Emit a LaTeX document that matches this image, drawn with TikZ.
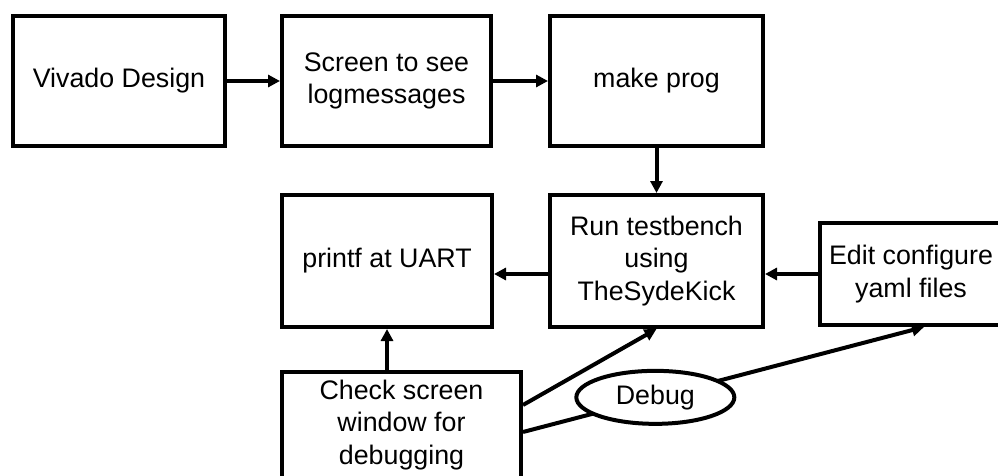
\documentclass[tikz,border=0pt]{standalone}
\usepackage{fontspec}
\setmainfont{Liberation Sans}
\usetikzlibrary{positioning,arrows.meta,shapes.geometric}

\tikzset{
    stepbox/.style={draw, line width=4pt, inner sep=0pt, align=center, fill=white},
    bubble/.style={draw, ellipse, line width=4pt, inner sep=0pt, fill=white,
        minimum width=158pt, minimum height=53pt},
    flow/.style={line width=4pt, -{Triangle[length=12pt,width=12pt]}},
}

\begin{document}
\begin{tikzpicture}[x=1pt, y=1pt, font=\fontsize{26.8}{32.5}\selectfont]
    \useasboundingbox (0,0) rectangle (998,-476);

    % Top row
    \node[stepbox, minimum width=212pt, minimum height=130pt] (vivado) at (119,-81) {Vivado Design};
    \node[stepbox, minimum width=209pt, minimum height=130pt] (screen) at (386.5,-81) {Screen to see\\logmessages};
    \node[stepbox, minimum width=213pt, minimum height=130pt] (prog) at (656.5,-81) {make prog};

    % Middle row
    \node[stepbox, minimum width=210pt, minimum height=132pt] (uart) at (387,-261) {printf at UART};
    \node[stepbox, minimum width=213pt, minimum height=132pt] (testbench) at (656.5,-261) {Run testbench\\using\\TheSydeKick};
    \node[stepbox, minimum width=182pt, minimum height=102pt] (yaml) at (911,-274) {Edit configure\\yaml files};

    % Bottom
    \node[stepbox, minimum width=239pt, minimum height=106pt] (check) at (401.5,-425) {Check screen\\window for\\debugging};

    % Arrows
    \draw[flow] (vivado) -- (screen);
    \draw[flow] (screen) -- (prog);
    \draw[flow] (prog) -- (testbench);
    \draw[flow] (testbench.west |- yaml.west) -- (uart.east |- yaml.west);
    \draw[flow] (yaml.west) -- (testbench.east |- yaml.west);
    \draw[flow] (uart.south |- check.north) -- (uart.south);
    \draw[flow] ([yshift=20pt]check.east) -- (testbench.south);
    \draw[flow] ([yshift=-7pt]check.east) -- node[bubble, pos=0.33] (debug) {Debug} ([xshift=13pt]yaml.south);
\end{tikzpicture}
\end{document}
